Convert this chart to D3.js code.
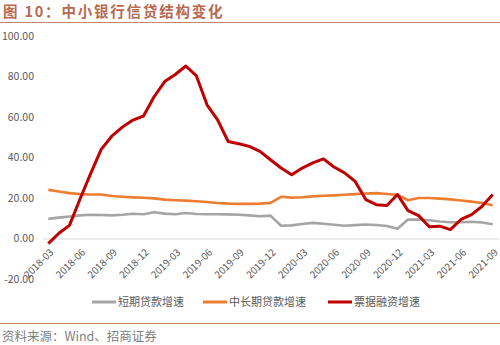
<!DOCTYPE html>
<html>
<head>
<meta charset="utf-8">
<script src="https://cdn.jsdelivr.net/npm/d3@7/dist/d3.min.js"></script>
<style>
  html, body { margin: 0; padding: 0; background: #fff; }
  svg { display: block; font-family: "Microsoft YaHei", "Noto Sans CJK SC", sans-serif; }
</style>
</head>
<body>
<svg id="chart" width="500" height="345"></svg>
<script>
// Monthly observations, 2018-03 to 2021-09
const months = [
  "2018-03","2018-04","2018-05","2018-06","2018-07","2018-08","2018-09","2018-10","2018-11","2018-12",
  "2019-01","2019-02","2019-03","2019-04","2019-05","2019-06","2019-07","2019-08","2019-09","2019-10",
  "2019-11","2019-12","2020-01","2020-02","2020-03","2020-04","2020-05","2020-06","2020-07","2020-08",
  "2020-09","2020-10","2020-11","2020-12","2021-01","2021-02","2021-03","2021-04","2021-05","2021-06",
  "2021-07","2021-08","2021-09"
];

// 短期贷款增速 (%)
const shortTerm = [
  9.7, 10.3, 10.9, 11.4, 11.7, 11.6, 11.4, 11.7, 12.2, 12.0,
  13.0, 12.3, 12.0, 12.6, 12.1, 12.0, 12.0, 11.9, 11.7, 11.4,
  11.0, 11.3, 6.3, 6.5, 7.2, 7.7, 7.3, 6.8, 6.3, 6.6,
  6.9, 6.7, 6.2, 4.8, 9.4, 9.3, 9.0, 8.4, 8.0, 8.0,
  8.3, 7.9, 7.0
];

// 中长期贷款增速 (%)
const longTerm = [
  24.0, 23.2, 22.4, 21.9, 21.7, 21.7, 21.0, 20.6, 20.3, 20.1,
  19.8, 19.2, 18.9, 18.7, 18.4, 18.0, 17.5, 17.2, 17.1, 17.1,
  17.2, 17.6, 20.6, 20.2, 20.4, 20.8, 21.1, 21.3, 21.6, 21.9,
  22.2, 22.4, 22.0, 21.6, 18.9, 20.0, 20.0, 19.7, 19.3, 18.8,
  18.2, 17.5, 16.4
];

// 票据融资增速 (%)
const billFinancing = [
  -2.5, 2.6, 6.5, 19.5, 32.0, 44.0, 50.5, 55.0, 58.5, 60.5,
  70.0, 77.5, 81.0, 85.2, 80.3, 66.0, 58.6, 47.9, 46.8, 45.5,
  43.0, 38.9, 34.8, 31.5, 34.8, 37.3, 39.3, 35.3, 32.4, 28.2,
  19.2, 16.7, 16.3, 21.7, 13.8, 11.3, 5.8, 6.1, 4.4, 9.4,
  11.8, 15.9, 21.7
];

// Axis labels
const yTicks = [-20, 0, 20, 40, 60, 80, 100];
const xTickLabels = [
  "2018-03","2018-06","2018-09","2018-12","2019-03","2019-06","2019-09","2019-12",
  "2020-03","2020-06","2020-09","2020-12","2021-03","2021-06","2021-09"
];

const seriesNames = ["短期贷款增速", "中长期贷款增速", "票据融资增速"];
const seriesColors = ["#a5a5a5", "#ed7d31", "#c00000"];
const seriesWidths = [2.6, 2.6, 3];
const seriesValues = [shortTerm, longTerm, billFinancing];

const titleText = "图 10：中小银行信贷结构变化";
const sourceText = "资料来源：Wind、招商证券";

const svg = d3.select("#chart");

const x = d3.scalePoint().domain(months).range([43, 498]).padding(0.5);
const y = d3.scaleLinear().domain([-20, 100]).range([279, 36]);

// Title and rules
svg.append("text")
  .attr("x", 3).attr("y", 17)
  .attr("fill", "#b86a50")
  .attr("font-size", 14.5)
  .attr("font-weight", "bold")
  .attr("letter-spacing", 1.8)
  .text(titleText);

svg.append("line")
  .attr("x1", 0).attr("x2", 500).attr("y1", 22.5).attr("y2", 22.5)
  .attr("stroke", "#c0866c").attr("stroke-width", 1);

svg.append("line")
  .attr("x1", 0).attr("x2", 500).attr("y1", 323.5).attr("y2", 323.5)
  .attr("stroke", "#c0866c").attr("stroke-width", 1);

svg.append("text")
  .attr("x", 2).attr("y", 341)
  .attr("fill", "#808080")
  .attr("font-size", 12.5)
  .text(sourceText);

// Y axis (labels only)
const yAxis = d3.axisLeft(y)
  .tickValues(yTicks)
  .tickSize(0)
  .tickPadding(0)
  .tickFormat(d => d.toFixed(2));

const gy = svg.append("g").attr("transform", "translate(34,0)").call(yAxis);
gy.select(".domain").remove();
gy.selectAll("text")
  .attr("fill", "#595959")
  .attr("font-size", 10.5)
  .attr("font-family", "\"Microsoft YaHei\", \"Noto Sans CJK SC\", sans-serif");

// X axis along zero
const xAxis = d3.axisBottom(x)
  .tickValues(xTickLabels)
  .tickSize(0)
  .tickPadding(0);

const gx = svg.append("g").attr("transform", `translate(0,${y(0)})`).call(xAxis);
gx.select(".domain").attr("stroke", "#d9d9d9").attr("stroke-width", 1);
gx.selectAll("text")
  .attr("fill", "#595959")
  .attr("font-size", 10)
  .attr("font-family", "\"Microsoft YaHei\", \"Noto Sans CJK SC\", sans-serif")
  .attr("text-anchor", "end")
  .attr("dy", "0.35em")
  .attr("y", 0)
  .attr("transform", "translate(3,12) rotate(-45)");

// Lines
const line = d3.line()
  .x((d, i) => x(months[i]))
  .y(d => y(d));

seriesValues.forEach((vals, k) => {
  svg.append("path")
    .datum(vals)
    .attr("fill", "none")
    .attr("stroke", seriesColors[k])
    .attr("stroke-width", seriesWidths[k])
    .attr("stroke-linejoin", "round")
    .attr("d", line);
});

// Legend
const legendX = [92, 203, 328];
const legend = svg.append("g").attr("transform", "translate(0,302)");
seriesNames.forEach((name, k) => {
  const g = legend.append("g").attr("transform", `translate(${legendX[k]},0)`);
  g.append("line")
    .attr("x1", 0).attr("x2", 24).attr("y1", 0).attr("y2", 0)
    .attr("stroke", seriesColors[k]).attr("stroke-width", 3);
  g.append("text")
    .attr("x", 26).attr("y", 0).attr("dy", "0.35em")
    .attr("fill", "#595959")
    .attr("font-size", 11)
    .text(name);
});
</script>
</body>
</html>
